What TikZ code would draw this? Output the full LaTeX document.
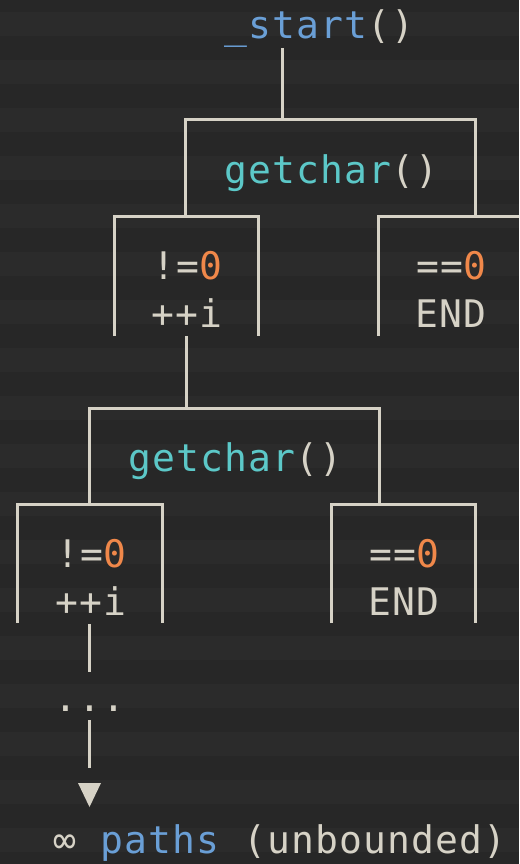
\documentclass[tikz,border=0pt]{standalone}
\usepackage{fontspec}
\setmonofont[LetterSpace=3]{DejaVu Sans Mono}
\definecolor{bgdark}{HTML}{272727}
\definecolor{bglight}{HTML}{2B2B2B}
\definecolor{ink}{HTML}{D6D2C6}
\definecolor{fnblue}{HTML}{6A9FD6}
\definecolor{fnteal}{HTML}{5CC8C8}
\definecolor{numorange}{HTML}{F0884A}
\begin{document}
\begin{tikzpicture}[x=1pt,y=-1pt,
  wire/.style={draw=ink, line width=3pt},
  code/.style={inner sep=0pt, anchor=base, text=ink,
    font=\ttfamily\fontsize{38}{48}\selectfont}]
\useasboundingbox (0,0) rectangle (519,864);
\clip (0,0) rectangle (519,864);

% terminal-style striped background
\fill[bgdark] (0,0) rectangle (519,864);
\foreach \k in {0,...,17}
  \fill[bglight] (0,12+48*\k) rectangle (519,36+48*\k);

% texts
\node[code] (start) at (319,39) {\textcolor{fnblue}{\_start}()};
\node[code] (gc1)   at (331,183) {\textcolor{fnteal}{getchar}()};
\node[code] (ne1)   at (187,279) {!=\textcolor{numorange}{0}};
\node[code] (inc1)  at (187,327) {++i};
\node[code] (eq1)   at (451,279) {==\textcolor{numorange}{0}};
\node[code] (end1)  at (451,327) {END};
\node[code] (gc2)   at (235,471) {\textcolor{fnteal}{getchar}()};
\node[code] (ne2)   at (91,567) {!=\textcolor{numorange}{0}};
\node[code] (inc2)  at (91,615) {++i};
\node[code] (eq2)   at (404,567) {==\textcolor{numorange}{0}};
\node[code] (end2)  at (404,615) {END};
\node[code] (dots)  at (90,711) {...};
\node[code, anchor=base west] (paths) at (53,853)
  {∞ \textcolor{fnblue}{paths} (unbounded)};

% bracket corners
\coordinate (s0) at (282,48);
\coordinate (s1) at (282,120);
\coordinate (a1) at (185,216); \coordinate (a2) at (185,120);
\coordinate (a3) at (475,120); \coordinate (a4) at (475,216);
\coordinate (l1a) at (114,336); \coordinate (l1b) at (114,216);
\coordinate (l1c) at (258,216); \coordinate (l1d) at (258,336);
\coordinate (r1a) at (378,336); \coordinate (r1b) at (378,216);
\coordinate (r1c) at (522,216); \coordinate (r1d) at (522,336);
\coordinate (m0) at (186,336);
\coordinate (m1) at (186,408);
\coordinate (b1) at (89,504);  \coordinate (b2) at (89,408);
\coordinate (b3) at (379,408); \coordinate (b4) at (379,504);
\coordinate (l2a) at (17,623);  \coordinate (l2b) at (17,504);
\coordinate (l2c) at (162,504); \coordinate (l2d) at (162,623);
\coordinate (r2a) at (331,623); \coordinate (r2b) at (331,504);
\coordinate (r2c) at (475,504); \coordinate (r2d) at (475,623);
\coordinate (t0) at (89,624);
\coordinate (t1) at (89,672);
\coordinate (u0) at (89,720);
\coordinate (u1) at (89,768);

% first level
\draw[wire] (s0) -- (s1);
\draw[wire] (a1) -- (a2) -- (a3) -- (a4);
\draw[wire] (l1a) -- (l1b) -- (l1c) -- (l1d);
\draw[wire] (r1a) -- (r1b) -- (r1c) -- (r1d);
% second level
\draw[wire] (m0) -- (m1);
\draw[wire] (b1) -- (b2) -- (b3) -- (b4);
\draw[wire] (l2a) -- (l2b) -- (l2c) -- (l2d);
\draw[wire] (r2a) -- (r2b) -- (r2c) -- (r2d);
% continuation
\draw[wire] (t0) -- (t1);
\draw[wire] (u0) -- (u1);
\fill[ink] (78,783) -- (101,783) -- (89.5,807) -- cycle;
\end{tikzpicture}
\end{document}
